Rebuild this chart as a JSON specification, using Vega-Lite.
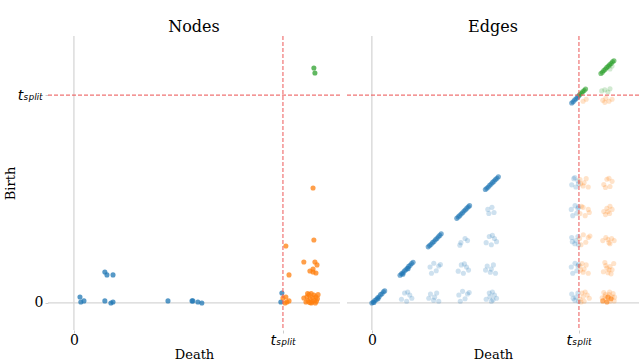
{
  "$schema": "https://vega.github.io/schema/vega-lite/v6.json",
  "background": "white",
  "padding": {"left": 4, "top": 19, "right": 0, "bottom": 0},
  "spacing": 5,
  "config": {
    "view": {"stroke": null},
    "font": "DejaVu Serif",
    "axis": {"domain": false, "grid": false, "tickColor": "#cccccc", "tickSize": 3, "labelFont": "DejaVu Serif", "labelFontSize": 14, "labelColor": "#000000", "titleFont": "DejaVu Serif", "titleFontSize": 13, "titleFontWeight": "normal", "titleColor": "#000000"},
    "title": {"font": "DejaVu Serif", "fontSize": 16, "fontWeight": "normal", "color": "#000000"}
  },
  "datasets": {
    "nodes": [
      {"death": 0.029, "birth": 0.029, "cls": "a"},
      {"death": 0.033, "birth": 0.005, "cls": "a"},
      {"death": 0.048, "birth": 0.010, "cls": "a"},
      {"death": 0.148, "birth": 0.149, "cls": "a"},
      {"death": 0.158, "birth": 0.135, "cls": "a"},
      {"death": 0.187, "birth": 0.135, "cls": "a"},
      {"death": 0.148, "birth": 0.010, "cls": "a"},
      {"death": 0.177, "birth": 0.000, "cls": "a"},
      {"death": 0.187, "birth": 0.005, "cls": "a"},
      {"death": 0.450, "birth": 0.010, "cls": "a"},
      {"death": 0.565, "birth": 0.010, "cls": "a"},
      {"death": 0.569, "birth": 0.010, "cls": "a"},
      {"death": 0.593, "birth": 0.005, "cls": "a"},
      {"death": 0.612, "birth": 0.000, "cls": "a"},
      {"death": 0.995, "birth": 0.048, "cls": "a"},
      {"death": 0.990, "birth": 0.005, "cls": "a"},
      {"death": 1.144, "birth": 0.553, "cls": "b"},
      {"death": 1.148, "birth": 0.303, "cls": "b"},
      {"death": 1.014, "birth": 0.274, "cls": "b"},
      {"death": 1.029, "birth": 0.135, "cls": "b"},
      {"death": 1.100, "birth": 0.197, "cls": "b"},
      {"death": 1.153, "birth": 0.197, "cls": "b"},
      {"death": 1.163, "birth": 0.183, "cls": "b"},
      {"death": 1.129, "birth": 0.154, "cls": "b"},
      {"death": 1.144, "birth": 0.149, "cls": "b"},
      {"death": 1.158, "birth": 0.144, "cls": "b"},
      {"death": 1.144, "birth": 0.163, "cls": "b"},
      {"death": 1.000, "birth": 0.024, "cls": "b"},
      {"death": 1.014, "birth": 0.029, "cls": "b"},
      {"death": 1.019, "birth": 0.005, "cls": "b"},
      {"death": 1.029, "birth": 0.010, "cls": "b"},
      {"death": 1.010, "birth": 0.000, "cls": "b"},
      {"death": 1.100, "birth": 0.024, "cls": "b"},
      {"death": 1.115, "birth": 0.030, "cls": "b"},
      {"death": 1.125, "birth": 0.040, "cls": "b"},
      {"death": 1.135, "birth": 0.045, "cls": "b"},
      {"death": 1.148, "birth": 0.038, "cls": "b"},
      {"death": 1.158, "birth": 0.030, "cls": "b"},
      {"death": 1.165, "birth": 0.020, "cls": "b"},
      {"death": 1.120, "birth": 0.010, "cls": "b"},
      {"death": 1.130, "birth": 0.020, "cls": "b"},
      {"death": 1.140, "birth": 0.005, "cls": "b"},
      {"death": 1.150, "birth": 0.012, "cls": "b"},
      {"death": 1.160, "birth": 0.008, "cls": "b"},
      {"death": 1.110, "birth": 0.005, "cls": "b"},
      {"death": 1.135, "birth": 0.000, "cls": "b"},
      {"death": 1.155, "birth": 0.000, "cls": "b"},
      {"death": 1.168, "birth": 0.040, "cls": "b"},
      {"death": 1.142, "birth": 0.025, "cls": "b"},
      {"death": 1.128, "birth": 0.002, "cls": "b"},
      {"death": 1.118, "birth": 0.045, "cls": "b"},
      {"death": 1.148, "birth": 1.130, "cls": "c"},
      {"death": 1.153, "birth": 1.106, "cls": "c"}
    ],
    "edges": [
      {"death": 0.000, "birth": 0.000, "cls": "a", "kind": "dense"},
      {"death": 0.007, "birth": 0.005, "cls": "a", "kind": "dense"},
      {"death": 0.014, "birth": 0.012, "cls": "a", "kind": "dense"},
      {"death": 0.021, "birth": 0.016, "cls": "a", "kind": "dense"},
      {"death": 0.028, "birth": 0.025, "cls": "a", "kind": "dense"},
      {"death": 0.035, "birth": 0.030, "cls": "a", "kind": "dense"},
      {"death": 0.042, "birth": 0.040, "cls": "a", "kind": "dense"},
      {"death": 0.049, "birth": 0.044, "cls": "a", "kind": "dense"},
      {"death": 0.056, "birth": 0.054, "cls": "a", "kind": "dense"},
      {"death": 0.062, "birth": 0.058, "cls": "a", "kind": "dense"},
      {"death": 0.010, "birth": 0.002, "cls": "a", "kind": "dense"},
      {"death": 0.030, "birth": 0.020, "cls": "a", "kind": "dense"},
      {"death": 0.136, "birth": 0.133, "cls": "a", "kind": "dense"},
      {"death": 0.143, "birth": 0.140, "cls": "a", "kind": "dense"},
      {"death": 0.150, "birth": 0.145, "cls": "a", "kind": "dense"},
      {"death": 0.157, "birth": 0.154, "cls": "a", "kind": "dense"},
      {"death": 0.164, "birth": 0.160, "cls": "a", "kind": "dense"},
      {"death": 0.171, "birth": 0.167, "cls": "a", "kind": "dense"},
      {"death": 0.178, "birth": 0.176, "cls": "a", "kind": "dense"},
      {"death": 0.185, "birth": 0.181, "cls": "a", "kind": "dense"},
      {"death": 0.192, "birth": 0.190, "cls": "a", "kind": "dense"},
      {"death": 0.199, "birth": 0.196, "cls": "a", "kind": "dense"},
      {"death": 0.150, "birth": 0.138, "cls": "a", "kind": "dense"},
      {"death": 0.175, "birth": 0.165, "cls": "a", "kind": "dense"},
      {"death": 0.272, "birth": 0.270, "cls": "a", "kind": "dense"},
      {"death": 0.279, "birth": 0.276, "cls": "a", "kind": "dense"},
      {"death": 0.286, "birth": 0.282, "cls": "a", "kind": "dense"},
      {"death": 0.293, "birth": 0.290, "cls": "a", "kind": "dense"},
      {"death": 0.300, "birth": 0.296, "cls": "a", "kind": "dense"},
      {"death": 0.307, "birth": 0.304, "cls": "a", "kind": "dense"},
      {"death": 0.314, "birth": 0.310, "cls": "a", "kind": "dense"},
      {"death": 0.321, "birth": 0.318, "cls": "a", "kind": "dense"},
      {"death": 0.328, "birth": 0.325, "cls": "a", "kind": "dense"},
      {"death": 0.335, "birth": 0.333, "cls": "a", "kind": "dense"},
      {"death": 0.410, "birth": 0.407, "cls": "a", "kind": "dense"},
      {"death": 0.417, "birth": 0.414, "cls": "a", "kind": "dense"},
      {"death": 0.424, "birth": 0.420, "cls": "a", "kind": "dense"},
      {"death": 0.431, "birth": 0.428, "cls": "a", "kind": "dense"},
      {"death": 0.438, "birth": 0.434, "cls": "a", "kind": "dense"},
      {"death": 0.445, "birth": 0.442, "cls": "a", "kind": "dense"},
      {"death": 0.452, "birth": 0.448, "cls": "a", "kind": "dense"},
      {"death": 0.459, "birth": 0.456, "cls": "a", "kind": "dense"},
      {"death": 0.466, "birth": 0.463, "cls": "a", "kind": "dense"},
      {"death": 0.472, "birth": 0.468, "cls": "a", "kind": "dense"},
      {"death": 0.548, "birth": 0.546, "cls": "a", "kind": "dense"},
      {"death": 0.555, "birth": 0.552, "cls": "a", "kind": "dense"},
      {"death": 0.562, "birth": 0.558, "cls": "a", "kind": "dense"},
      {"death": 0.569, "birth": 0.566, "cls": "a", "kind": "dense"},
      {"death": 0.576, "birth": 0.572, "cls": "a", "kind": "dense"},
      {"death": 0.583, "birth": 0.580, "cls": "a", "kind": "dense"},
      {"death": 0.590, "birth": 0.586, "cls": "a", "kind": "dense"},
      {"death": 0.597, "birth": 0.594, "cls": "a", "kind": "dense"},
      {"death": 0.604, "birth": 0.600, "cls": "a", "kind": "dense"},
      {"death": 0.611, "birth": 0.607, "cls": "a", "kind": "dense"},
      {"death": 0.965, "birth": 0.962, "cls": "a", "kind": "dense"},
      {"death": 0.972, "birth": 0.968, "cls": "a", "kind": "dense"},
      {"death": 0.979, "birth": 0.976, "cls": "a", "kind": "dense"},
      {"death": 0.986, "birth": 0.982, "cls": "a", "kind": "dense"},
      {"death": 0.993, "birth": 0.990, "cls": "a", "kind": "dense"},
      {"death": 0.999, "birth": 0.996, "cls": "a", "kind": "dense"},
      {"death": 1.004, "birth": 1.003, "cls": "c", "kind": "dense"},
      {"death": 1.011, "birth": 1.009, "cls": "c", "kind": "dense"},
      {"death": 1.018, "birth": 1.016, "cls": "c", "kind": "dense"},
      {"death": 1.025, "birth": 1.022, "cls": "c", "kind": "dense"},
      {"death": 1.032, "birth": 1.029, "cls": "c", "kind": "dense"},
      {"death": 1.106, "birth": 1.104, "cls": "c", "kind": "dense"},
      {"death": 1.113, "birth": 1.110, "cls": "c", "kind": "dense"},
      {"death": 1.120, "birth": 1.118, "cls": "c", "kind": "dense"},
      {"death": 1.127, "birth": 1.124, "cls": "c", "kind": "dense"},
      {"death": 1.134, "birth": 1.132, "cls": "c", "kind": "dense"},
      {"death": 1.141, "birth": 1.138, "cls": "c", "kind": "dense"},
      {"death": 1.148, "birth": 1.146, "cls": "c", "kind": "dense"},
      {"death": 1.155, "birth": 1.152, "cls": "c", "kind": "dense"},
      {"death": 1.162, "birth": 1.160, "cls": "c", "kind": "dense"},
      {"death": 1.169, "birth": 1.165, "cls": "c", "kind": "dense"},
      {"death": 0.143, "birth": 0.018, "cls": "a", "kind": "faint"},
      {"death": 0.158, "birth": 0.048, "cls": "a", "kind": "faint"},
      {"death": 0.168, "birth": 0.008, "cls": "a", "kind": "faint"},
      {"death": 0.183, "birth": 0.038, "cls": "a", "kind": "faint"},
      {"death": 0.193, "birth": 0.023, "cls": "a", "kind": "faint"},
      {"death": 0.173, "birth": 0.053, "cls": "a", "kind": "faint"},
      {"death": 0.283, "birth": 0.043, "cls": "a", "kind": "faint"},
      {"death": 0.298, "birth": 0.013, "cls": "a", "kind": "faint"},
      {"death": 0.313, "birth": 0.048, "cls": "a", "kind": "faint"},
      {"death": 0.323, "birth": 0.008, "cls": "a", "kind": "faint"},
      {"death": 0.303, "birth": 0.028, "cls": "a", "kind": "faint"},
      {"death": 0.275, "birth": 0.023, "cls": "a", "kind": "faint"},
      {"death": 0.427, "birth": 0.008, "cls": "a", "kind": "faint"},
      {"death": 0.462, "birth": 0.043, "cls": "a", "kind": "faint"},
      {"death": 0.420, "birth": 0.038, "cls": "a", "kind": "faint"},
      {"death": 0.450, "birth": 0.020, "cls": "a", "kind": "faint"},
      {"death": 0.470, "birth": 0.050, "cls": "a", "kind": "faint"},
      {"death": 0.438, "birth": 0.056, "cls": "a", "kind": "faint"},
      {"death": 0.552, "birth": 0.018, "cls": "a", "kind": "faint"},
      {"death": 0.567, "birth": 0.048, "cls": "a", "kind": "faint"},
      {"death": 0.577, "birth": 0.008, "cls": "a", "kind": "faint"},
      {"death": 0.592, "birth": 0.038, "cls": "a", "kind": "faint"},
      {"death": 0.602, "birth": 0.023, "cls": "a", "kind": "faint"},
      {"death": 0.582, "birth": 0.053, "cls": "a", "kind": "faint"},
      {"death": 0.570, "birth": 0.030, "cls": "a", "kind": "faint"},
      {"death": 0.585, "birth": 0.015, "cls": "a", "kind": "faint"},
      {"death": 0.965, "birth": 0.043, "cls": "a", "kind": "faint"},
      {"death": 0.980, "birth": 0.013, "cls": "a", "kind": "faint"},
      {"death": 0.995, "birth": 0.048, "cls": "a", "kind": "faint"},
      {"death": 0.998, "birth": 0.008, "cls": "a", "kind": "faint"},
      {"death": 0.985, "birth": 0.028, "cls": "a", "kind": "faint"},
      {"death": 0.972, "birth": 0.023, "cls": "a", "kind": "faint"},
      {"death": 0.288, "birth": 0.143, "cls": "a", "kind": "faint"},
      {"death": 0.323, "birth": 0.178, "cls": "a", "kind": "faint"},
      {"death": 0.281, "birth": 0.173, "cls": "a", "kind": "faint"},
      {"death": 0.311, "birth": 0.155, "cls": "a", "kind": "faint"},
      {"death": 0.331, "birth": 0.185, "cls": "a", "kind": "faint"},
      {"death": 0.299, "birth": 0.191, "cls": "a", "kind": "faint"},
      {"death": 0.417, "birth": 0.153, "cls": "a", "kind": "faint"},
      {"death": 0.432, "birth": 0.183, "cls": "a", "kind": "faint"},
      {"death": 0.442, "birth": 0.143, "cls": "a", "kind": "faint"},
      {"death": 0.457, "birth": 0.173, "cls": "a", "kind": "faint"},
      {"death": 0.467, "birth": 0.158, "cls": "a", "kind": "faint"},
      {"death": 0.447, "birth": 0.188, "cls": "a", "kind": "faint"},
      {"death": 0.557, "birth": 0.178, "cls": "a", "kind": "faint"},
      {"death": 0.572, "birth": 0.148, "cls": "a", "kind": "faint"},
      {"death": 0.587, "birth": 0.183, "cls": "a", "kind": "faint"},
      {"death": 0.597, "birth": 0.143, "cls": "a", "kind": "faint"},
      {"death": 0.577, "birth": 0.163, "cls": "a", "kind": "faint"},
      {"death": 0.549, "birth": 0.158, "cls": "a", "kind": "faint"},
      {"death": 0.970, "birth": 0.143, "cls": "a", "kind": "faint"},
      {"death": 0.995, "birth": 0.178, "cls": "a", "kind": "faint"},
      {"death": 0.963, "birth": 0.173, "cls": "a", "kind": "faint"},
      {"death": 0.990, "birth": 0.155, "cls": "a", "kind": "faint"},
      {"death": 0.998, "birth": 0.185, "cls": "a", "kind": "faint"},
      {"death": 0.981, "birth": 0.191, "cls": "a", "kind": "faint"},
      {"death": 0.430, "birth": 0.290, "cls": "a", "kind": "faint"},
      {"death": 0.450, "birth": 0.310, "cls": "a", "kind": "faint"},
      {"death": 0.462, "birth": 0.300, "cls": "a", "kind": "faint"},
      {"death": 0.425, "birth": 0.278, "cls": "a", "kind": "faint"},
      {"death": 0.552, "birth": 0.290, "cls": "a", "kind": "faint"},
      {"death": 0.567, "birth": 0.320, "cls": "a", "kind": "faint"},
      {"death": 0.577, "birth": 0.280, "cls": "a", "kind": "faint"},
      {"death": 0.592, "birth": 0.310, "cls": "a", "kind": "faint"},
      {"death": 0.602, "birth": 0.295, "cls": "a", "kind": "faint"},
      {"death": 0.582, "birth": 0.325, "cls": "a", "kind": "faint"},
      {"death": 0.965, "birth": 0.315, "cls": "a", "kind": "faint"},
      {"death": 0.980, "birth": 0.285, "cls": "a", "kind": "faint"},
      {"death": 0.995, "birth": 0.320, "cls": "a", "kind": "faint"},
      {"death": 0.998, "birth": 0.280, "cls": "a", "kind": "faint"},
      {"death": 0.985, "birth": 0.300, "cls": "a", "kind": "faint"},
      {"death": 0.968, "birth": 0.295, "cls": "a", "kind": "faint"},
      {"death": 0.565, "birth": 0.430, "cls": "a", "kind": "faint"},
      {"death": 0.590, "birth": 0.435, "cls": "a", "kind": "faint"},
      {"death": 0.580, "birth": 0.460, "cls": "a", "kind": "faint"},
      {"death": 0.560, "birth": 0.450, "cls": "a", "kind": "faint"},
      {"death": 0.970, "birth": 0.420, "cls": "a", "kind": "faint"},
      {"death": 0.995, "birth": 0.455, "cls": "a", "kind": "faint"},
      {"death": 0.963, "birth": 0.450, "cls": "a", "kind": "faint"},
      {"death": 0.990, "birth": 0.432, "cls": "a", "kind": "faint"},
      {"death": 0.998, "birth": 0.462, "cls": "a", "kind": "faint"},
      {"death": 0.981, "birth": 0.468, "cls": "a", "kind": "faint"},
      {"death": 0.965, "birth": 0.568, "cls": "a", "kind": "faint"},
      {"death": 0.975, "birth": 0.598, "cls": "a", "kind": "faint"},
      {"death": 0.985, "birth": 0.558, "cls": "a", "kind": "faint"},
      {"death": 0.995, "birth": 0.588, "cls": "a", "kind": "faint"},
      {"death": 0.998, "birth": 0.573, "cls": "a", "kind": "faint"},
      {"death": 0.980, "birth": 0.603, "cls": "a", "kind": "faint"},
      {"death": 1.005, "birth": 0.018, "cls": "b", "kind": "faint"},
      {"death": 1.015, "birth": 0.048, "cls": "b", "kind": "faint"},
      {"death": 1.025, "birth": 0.008, "cls": "b", "kind": "faint"},
      {"death": 1.040, "birth": 0.038, "cls": "b", "kind": "faint"},
      {"death": 1.050, "birth": 0.023, "cls": "b", "kind": "faint"},
      {"death": 1.030, "birth": 0.053, "cls": "b", "kind": "faint"},
      {"death": 1.010, "birth": 0.005, "cls": "b", "kind": "faint"},
      {"death": 1.020, "birth": 0.030, "cls": "b", "kind": "faint"},
      {"death": 1.005, "birth": 0.178, "cls": "b", "kind": "faint"},
      {"death": 1.020, "birth": 0.148, "cls": "b", "kind": "faint"},
      {"death": 1.035, "birth": 0.183, "cls": "b", "kind": "faint"},
      {"death": 1.045, "birth": 0.143, "cls": "b", "kind": "faint"},
      {"death": 1.025, "birth": 0.163, "cls": "b", "kind": "faint"},
      {"death": 1.008, "birth": 0.158, "cls": "b", "kind": "faint"},
      {"death": 1.015, "birth": 0.190, "cls": "b", "kind": "faint"},
      {"death": 1.010, "birth": 0.280, "cls": "b", "kind": "faint"},
      {"death": 1.045, "birth": 0.315, "cls": "b", "kind": "faint"},
      {"death": 1.003, "birth": 0.310, "cls": "b", "kind": "faint"},
      {"death": 1.033, "birth": 0.292, "cls": "b", "kind": "faint"},
      {"death": 1.053, "birth": 0.322, "cls": "b", "kind": "faint"},
      {"death": 1.021, "birth": 0.328, "cls": "b", "kind": "faint"},
      {"death": 1.005, "birth": 0.430, "cls": "b", "kind": "faint"},
      {"death": 1.020, "birth": 0.460, "cls": "b", "kind": "faint"},
      {"death": 1.030, "birth": 0.420, "cls": "b", "kind": "faint"},
      {"death": 1.045, "birth": 0.450, "cls": "b", "kind": "faint"},
      {"death": 1.050, "birth": 0.435, "cls": "b", "kind": "faint"},
      {"death": 1.012, "birth": 0.465, "cls": "b", "kind": "faint"},
      {"death": 1.005, "birth": 0.593, "cls": "b", "kind": "faint"},
      {"death": 1.020, "birth": 0.563, "cls": "b", "kind": "faint"},
      {"death": 1.035, "birth": 0.598, "cls": "b", "kind": "faint"},
      {"death": 1.045, "birth": 0.558, "cls": "b", "kind": "faint"},
      {"death": 1.025, "birth": 0.578, "cls": "b", "kind": "faint"},
      {"death": 1.008, "birth": 0.573, "cls": "b", "kind": "faint"},
      {"death": 1.115, "birth": 0.010, "cls": "b", "kind": "dense"},
      {"death": 1.125, "birth": 0.030, "cls": "b", "kind": "faint"},
      {"death": 1.135, "birth": 0.005, "cls": "b", "kind": "dense"},
      {"death": 1.145, "birth": 0.040, "cls": "b", "kind": "faint"},
      {"death": 1.155, "birth": 0.020, "cls": "b", "kind": "dense"},
      {"death": 1.165, "birth": 0.045, "cls": "b", "kind": "faint"},
      {"death": 1.170, "birth": 0.010, "cls": "b", "kind": "faint"},
      {"death": 1.120, "birth": 0.050, "cls": "b", "kind": "faint"},
      {"death": 1.130, "birth": 0.018, "cls": "b", "kind": "faint"},
      {"death": 1.140, "birth": 0.028, "cls": "b", "kind": "dense"},
      {"death": 1.150, "birth": 0.008, "cls": "b", "kind": "faint"},
      {"death": 1.160, "birth": 0.030, "cls": "b", "kind": "faint"},
      {"death": 1.148, "birth": 0.052, "cls": "b", "kind": "faint"},
      {"death": 1.128, "birth": 0.040, "cls": "b", "kind": "faint"},
      {"death": 1.112, "birth": 0.025, "cls": "b", "kind": "faint"},
      {"death": 1.172, "birth": 0.028, "cls": "b", "kind": "faint"},
      {"death": 1.118, "birth": 0.150, "cls": "b", "kind": "faint"},
      {"death": 1.130, "birth": 0.180, "cls": "b", "kind": "faint"},
      {"death": 1.140, "birth": 0.145, "cls": "b", "kind": "faint"},
      {"death": 1.150, "birth": 0.175, "cls": "b", "kind": "faint"},
      {"death": 1.160, "birth": 0.160, "cls": "b", "kind": "faint"},
      {"death": 1.168, "birth": 0.190, "cls": "b", "kind": "faint"},
      {"death": 1.125, "birth": 0.195, "cls": "b", "kind": "faint"},
      {"death": 1.145, "birth": 0.160, "cls": "b", "kind": "faint"},
      {"death": 1.155, "birth": 0.140, "cls": "b", "kind": "faint"},
      {"death": 1.135, "birth": 0.168, "cls": "b", "kind": "faint"},
      {"death": 1.115, "birth": 0.300, "cls": "b", "kind": "faint"},
      {"death": 1.130, "birth": 0.315, "cls": "b", "kind": "faint"},
      {"death": 1.145, "birth": 0.290, "cls": "b", "kind": "faint"},
      {"death": 1.158, "birth": 0.310, "cls": "b", "kind": "faint"},
      {"death": 1.170, "birth": 0.300, "cls": "b", "kind": "faint"},
      {"death": 1.140, "birth": 0.305, "cls": "b", "kind": "faint"},
      {"death": 1.150, "birth": 0.285, "cls": "b", "kind": "faint"},
      {"death": 1.120, "birth": 0.440, "cls": "b", "kind": "faint"},
      {"death": 1.135, "birth": 0.455, "cls": "b", "kind": "faint"},
      {"death": 1.148, "birth": 0.430, "cls": "b", "kind": "faint"},
      {"death": 1.160, "birth": 0.450, "cls": "b", "kind": "faint"},
      {"death": 1.150, "birth": 0.465, "cls": "b", "kind": "faint"},
      {"death": 1.140, "birth": 0.440, "cls": "b", "kind": "faint"},
      {"death": 1.128, "birth": 0.425, "cls": "b", "kind": "faint"},
      {"death": 1.120, "birth": 0.570, "cls": "b", "kind": "faint"},
      {"death": 1.135, "birth": 0.595, "cls": "b", "kind": "faint"},
      {"death": 1.150, "birth": 0.560, "cls": "b", "kind": "faint"},
      {"death": 1.160, "birth": 0.585, "cls": "b", "kind": "faint"},
      {"death": 1.145, "birth": 0.600, "cls": "b", "kind": "faint"},
      {"death": 1.128, "birth": 0.555, "cls": "b", "kind": "faint"},
      {"death": 1.115, "birth": 0.975, "cls": "b", "kind": "faint"},
      {"death": 1.130, "birth": 0.985, "cls": "b", "kind": "faint"},
      {"death": 1.145, "birth": 0.970, "cls": "b", "kind": "faint"},
      {"death": 1.160, "birth": 0.980, "cls": "b", "kind": "faint"},
      {"death": 1.125, "birth": 0.965, "cls": "b", "kind": "faint"},
      {"death": 1.020, "birth": 0.970, "cls": "b", "kind": "faint"},
      {"death": 1.035, "birth": 0.980, "cls": "b", "kind": "faint"},
      {"death": 1.110, "birth": 1.020, "cls": "c", "kind": "faint"},
      {"death": 1.125, "birth": 1.025, "cls": "c", "kind": "faint"},
      {"death": 1.140, "birth": 1.015, "cls": "c", "kind": "faint"},
      {"death": 1.150, "birth": 1.030, "cls": "c", "kind": "faint"},
      {"death": 1.150, "birth": 1.125, "cls": "c", "kind": "faint"},
      {"death": 1.160, "birth": 1.140, "cls": "c", "kind": "faint"}
    ]
  },
  "hconcat": [
    {
      "width": 292,
      "height": 294,
      "title": {"text": "Nodes", "offset": 0},
      "layer": [
        {"data": {"values": [{}]}, "mark": {"type": "rule", "color": "#d6d6d6", "strokeWidth": 1.3},
         "encoding": {"x": {"datum": 0, "type": "quantitative", "scale": {"domain": [-0.124, 1.273], "nice": false, "zero": false}}}},
        {"data": {"values": [{}]}, "mark": {"type": "rule", "color": "#d6d6d6", "strokeWidth": 1.3},
         "encoding": {"y": {"datum": 0, "type": "quantitative", "scale": {"domain": [-0.13, 1.284], "nice": false, "zero": false}}}},
        {"data": {"name": "nodes"}, "mark": {"type": "circle", "size": 26, "opacity": 0.75},
         "encoding": {
           "x": {"field": "death", "type": "quantitative", "title": "Death",
                 "scale": {"domain": [-0.124, 1.273], "nice": false, "zero": false},
                 "axis": {"values": [0, 1], "labelExpr": "datum.value == 0 ? '0' : 'tₛₚₗᵢₜ'",
                          "labelFont": {"condition": {"test": "datum.value == 1", "value": "DejaVu Sans"}, "value": "DejaVu Serif"},
                          "labelFontStyle": {"condition": {"test": "datum.value == 1", "value": "italic"}, "value": "normal"},
                          "labelPadding": 0, "titlePadding": 1}},
           "y": {"field": "birth", "type": "quantitative", "title": "Birth",
                 "scale": {"domain": [-0.13, 1.284], "nice": false, "zero": false},
                 "axis": {"values": [0, 1], "labelExpr": "datum.value == 0 ? '0' : 'tₛₚₗᵢₜ'",
                          "labelFont": {"condition": {"test": "datum.value == 1", "value": "DejaVu Sans"}, "value": "DejaVu Serif"},
                          "labelFontStyle": {"condition": {"test": "datum.value == 1", "value": "italic"}, "value": "normal"},
                          "labelPadding": 2, "titleX": -31}},
           "color": {"field": "cls", "type": "nominal", "legend": null,
                     "scale": {"domain": ["a", "b", "c"], "range": ["#1f77b4", "#ff7f0e", "#2ca02c"]}}
         }},
        {"data": {"values": [{}]}, "mark": {"type": "rule", "color": "#ec5a5a", "strokeWidth": 1.2, "strokeDash": [4, 2], "opacity": 0.85},
         "encoding": {"x": {"datum": 1, "type": "quantitative", "scale": {"domain": [-0.124, 1.273], "nice": false, "zero": false}}}},
        {"data": {"values": [{}]}, "mark": {"type": "rule", "color": "#ec5a5a", "strokeWidth": 1.2, "strokeDash": [4, 2], "opacity": 0.85},
         "encoding": {"y": {"datum": 1, "type": "quantitative", "scale": {"domain": [-0.13, 1.284], "nice": false, "zero": false}}}}
      ]
    },
    {
      "width": 292,
      "height": 294,
      "title": {"text": "Edges", "offset": 0},
      "layer": [
        {"data": {"values": [{}]}, "mark": {"type": "rule", "color": "#d6d6d6", "strokeWidth": 1.3},
         "encoding": {"x": {"datum": 0, "type": "quantitative", "scale": {"domain": [-0.12, 1.29], "nice": false, "zero": false}}}},
        {"data": {"values": [{}]}, "mark": {"type": "rule", "color": "#d6d6d6", "strokeWidth": 1.3},
         "encoding": {"y": {"datum": 0, "type": "quantitative", "axis": null, "scale": {"domain": [-0.13, 1.284], "nice": false, "zero": false}}}},
        {"data": {"name": "edges"}, "mark": {"type": "circle", "size": 26},
         "encoding": {
           "x": {"field": "death", "type": "quantitative", "title": "Death",
                 "scale": {"domain": [-0.12, 1.29], "nice": false, "zero": false},
                 "axis": {"values": [0, 1], "labelExpr": "datum.value == 0 ? '0' : 'tₛₚₗᵢₜ'",
                          "labelFont": {"condition": {"test": "datum.value == 1", "value": "DejaVu Sans"}, "value": "DejaVu Serif"},
                          "labelFontStyle": {"condition": {"test": "datum.value == 1", "value": "italic"}, "value": "normal"},
                          "labelPadding": 0, "titlePadding": 1}},
           "y": {"field": "birth", "type": "quantitative", "axis": null,
                 "scale": {"domain": [-0.13, 1.284], "nice": false, "zero": false}},
           "color": {"field": "cls", "type": "nominal", "legend": null,
                     "scale": {"domain": ["a", "b", "c"], "range": ["#1f77b4", "#ff7f0e", "#2ca02c"]}},
           "opacity": {"field": "kind", "type": "nominal", "legend": null,
                       "scale": {"domain": ["dense", "faint"], "range": [0.6, 0.22]}}
         }},
        {"data": {"values": [{}]}, "mark": {"type": "rule", "color": "#ec5a5a", "strokeWidth": 1.2, "strokeDash": [4, 2], "opacity": 0.85},
         "encoding": {"x": {"datum": 1, "type": "quantitative", "scale": {"domain": [-0.12, 1.29], "nice": false, "zero": false}}}},
        {"data": {"values": [{}]}, "mark": {"type": "rule", "color": "#ec5a5a", "strokeWidth": 1.2, "strokeDash": [4, 2], "opacity": 0.85},
         "encoding": {"y": {"datum": 1, "type": "quantitative", "axis": null, "scale": {"domain": [-0.13, 1.284], "nice": false, "zero": false}}}}
      ]
    }
  ]
}
